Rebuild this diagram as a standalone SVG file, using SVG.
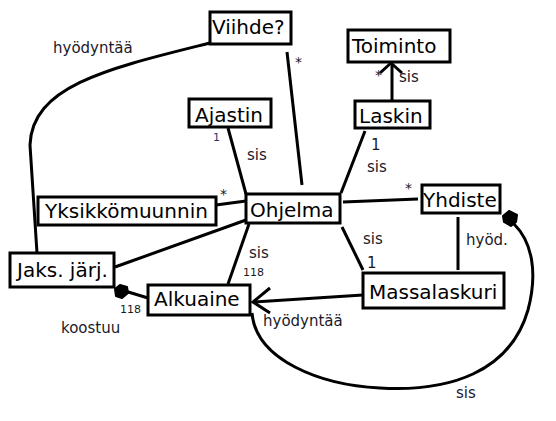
<svg xmlns="http://www.w3.org/2000/svg" width="556" height="421" viewBox="0 0 556 421">
<style>
.box{fill:#fff;stroke:#000;stroke-width:3}
.nt{font-family:"DejaVu Sans",Verdana,sans-serif;font-size:20px;fill:#000}
.lb{font-family:"DejaVu Sans",Verdana,sans-serif;font-size:15px;fill:#1a1a2a}
.sm{font-family:"DejaVu Sans",Verdana,sans-serif;font-size:11px;fill:#1a1a2a}
.st{font-family:"DejaVu Sans",Verdana,sans-serif;font-size:14px;fill:#1a1a2a}
.ln{fill:none;stroke:#000;stroke-width:3}
</style>
<rect width="556" height="421" fill="#fff"/>
<g id="connectors">
<path class="ln" d="M210,43 C110,68 32,85 30,145 L37,253"/>
<line class="ln" x1="287" y1="52" x2="302" y2="185"/>
<line class="ln" x1="392" y1="101" x2="392" y2="64"/>
<polyline class="ln" points="380,73 391,63 402,73"/>
<line class="ln" x1="365" y1="131" x2="341" y2="193"/>
<line class="ln" x1="228" y1="128" x2="246" y2="194"/>
<line class="ln" x1="216" y1="205" x2="246" y2="201"/>
<line class="ln" x1="115" y1="267" x2="246" y2="220"/>
<line class="ln" x1="249" y1="224" x2="228" y2="284"/>
<line class="ln" x1="125" y1="291" x2="148" y2="298"/>
<path d="M115,289 L120,285 L127,287 L128,293 L122,298 L116,296 Z" fill="#000" stroke="#000" stroke-width="2" stroke-linejoin="round"/>
<line class="ln" x1="343" y1="202" x2="418" y2="199"/>
<line class="ln" x1="342" y1="227" x2="363" y2="270"/>
<line class="ln" x1="458" y1="217" x2="458" y2="270"/>
<line class="ln" x1="363" y1="295" x2="253" y2="302"/>
<polyline class="ln" points="270,288 253,302 270,313"/>
<path class="ln" d="M252,313 C256,360 320,385 380,388 C450,392 510,372 528,310 C538,272 532,242 514,224"/>
<path d="M503,216 L509,211 L517,215 L516,222 L511,226 L504,222 Z" fill="#000" stroke="#000" stroke-width="2" stroke-linejoin="round"/>
</g>
<g id="labels">
<text class="lb" x="53" y="53">hyödyntää</text>
<text class="st" x="295" y="67">*</text>
<text class="st" x="375" y="80">*</text>
<text class="lb" x="399" y="82">sis</text>
<text class="lb" x="371" y="150">1</text>
<text class="lb" x="367" y="172">sis</text>
<text class="sm" x="213" y="141" style="fill:#203a70">1</text>
<text class="lb" x="247" y="160">sis</text>
<text class="st" x="220" y="199">*</text>
<text class="lb" x="249" y="258">sis</text>
<text class="sm" x="243" y="276">118</text>
<text class="sm" x="120" y="313">118</text>
<text class="lb" x="61" y="333">koostuu</text>
<text class="st" x="405" y="193">*</text>
<text class="lb" x="363" y="244">sis</text>
<text class="lb" x="367" y="268">1</text>
<text class="lb" x="466" y="245">hyöd.</text>
<text class="lb" x="263" y="326">hyödyntää</text>
<text class="lb" x="456" y="398">sis</text>
</g>
<g id="Viihde"><rect class="box" x="210" y="12" width="81" height="32"/><text class="nt" x="212" y="34">Viihde?</text></g>
<g id="Toiminto"><rect class="box" x="348" y="30" width="102" height="32"/><text class="nt" x="352" y="53">Toiminto</text></g>
<g id="Laskin"><rect class="box" x="355" y="101" width="75" height="27"/><text class="nt" x="359" y="123">Laskin</text></g>
<g id="Ajastin"><rect class="box" x="189" y="99" width="82" height="28"/><text class="nt" x="195" y="122">Ajastin</text></g>
<g id="Ohjelma"><rect class="box" x="246" y="194" width="94" height="29"/><text class="nt" x="250" y="217">Ohjelma</text></g>
<g id="Yhdiste"><rect class="box" x="422" y="185" width="78" height="28"/><text class="nt" x="423" y="207">Yhdiste</text></g>
<g id="Massalaskuri"><rect class="box" x="363" y="273" width="141" height="35"/><text class="nt" x="369" y="299">Massalaskuri</text></g>
<g id="Yksikkomuunnin"><rect class="box" x="38" y="197" width="178" height="28"/><text class="nt" x="45" y="218">Yksikkömuunnin</text></g>
<g id="Jaks"><rect class="box" x="10" y="253" width="104" height="34"/><text class="nt" x="17" y="277">Jaks. järj.</text></g>
<g id="Alkuaine"><rect class="box" x="148" y="285" width="102" height="30"/><text class="nt" x="154" y="306">Alkuaine</text></g>
</svg>
